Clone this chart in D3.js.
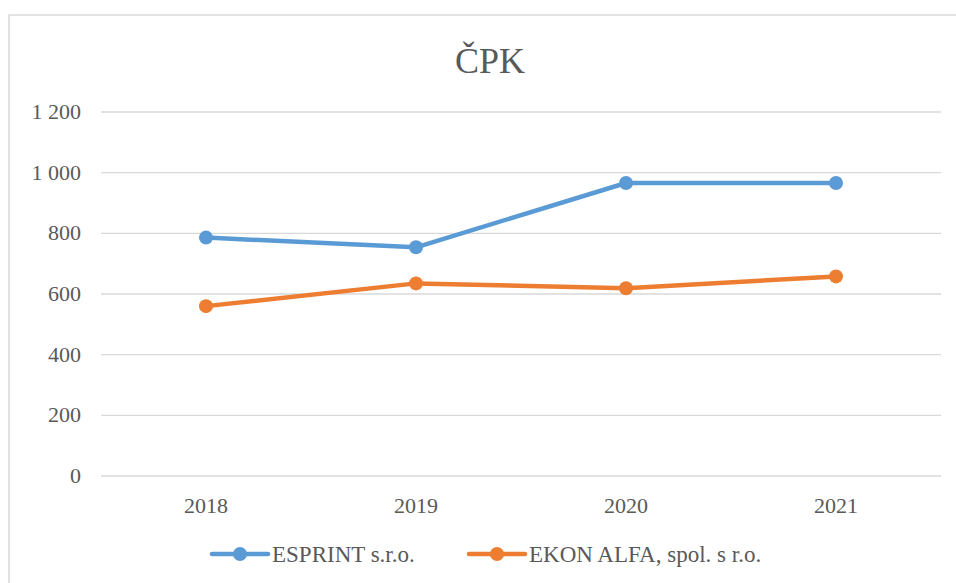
<!DOCTYPE html>
<html><head><meta charset="utf-8">
<script src="https://cdn.jsdelivr.net/npm/d3@7"></script>
<style>body{margin:0;background:#fff}svg{display:block}svg text{font-family:"Liberation Serif","Times New Roman",Times,serif}</style>
</head><body>
<script>
const years = ["2018","2019","2020","2021"];
const seriesNames = ["ESPRINT s.r.o.","EKON ALFA, spol. s r.o."];
const esprint = [786, 754, 966, 966];
const ekon = [560, 635, 619, 658];
const yTicks = [0,200,400,600,800,1000,1200];
const colors = ["#5b9bd5","#ed7d31"];

const W=956,H=583;
const svg=d3.select("body").append("svg").attr("width",W).attr("height",H);
svg.append("rect").attr("x",9).attr("y",15).attr("width",W+20).attr("height",H+20)
  .attr("fill","#fff").attr("stroke","#d9d9d9").attr("stroke-width",1.5);

const x=d3.scaleBand().domain(years).range([101,941]);
const y=d3.scaleLinear().domain([0,1200]).range([476,112]);
const fmt=v=>d3.format(",")(v).replace(/,/g," ");

svg.append("g").selectAll("line").data(yTicks).join("line")
  .attr("x1",101).attr("x2",941).attr("y1",d=>y(d)).attr("y2",d=>y(d))
  .attr("stroke","#d9d9d9").attr("stroke-width",1.3);
svg.append("g").selectAll("text").data(yTicks).join("text")
  .attr("x",81).attr("y",d=>y(d)+7).attr("text-anchor","end")
  .attr("font-size",22).attr("fill","#595959").text(fmt);
svg.append("g").selectAll("text").data(years).join("text")
  .attr("x",d=>x(d)+x.bandwidth()/2).attr("y",513).attr("text-anchor","middle")
  .attr("font-size",22).attr("fill","#595959").text(d=>d);

svg.append("text").attr("x",490).attr("y",73).attr("text-anchor","middle")
  .attr("font-size",36).attr("fill","#595959").text("ČPK");

const line=d3.line().x((d,i)=>x(years[i])+x.bandwidth()/2).y(d=>y(d));
[esprint,ekon].forEach((s,k)=>{
  svg.append("path").attr("d",line(s)).attr("fill","none").attr("stroke",colors[k])
    .attr("stroke-width",4.5).attr("stroke-linejoin","round").attr("stroke-linecap","round");
  svg.append("g").selectAll("circle").data(s).join("circle")
    .attr("cx",(d,i)=>x(years[i])+x.bandwidth()/2).attr("cy",d=>y(d)).attr("r",7)
    .attr("fill",colors[k]);
});

const legX=[212,469];
seriesNames.forEach((n,k)=>{
  const g=svg.append("g").attr("transform",`translate(${legX[k]},554)`);
  g.append("line").attr("x1",0).attr("x2",56).attr("stroke",colors[k]).attr("stroke-width",4.5).attr("stroke-linecap","round");
  g.append("circle").attr("cx",28).attr("r",7).attr("fill",colors[k]);
  g.append("text").attr("x",60).attr("y",8).attr("font-size",23)
    .attr("fill","#595959").text(n);
});
</script>
</body></html>
